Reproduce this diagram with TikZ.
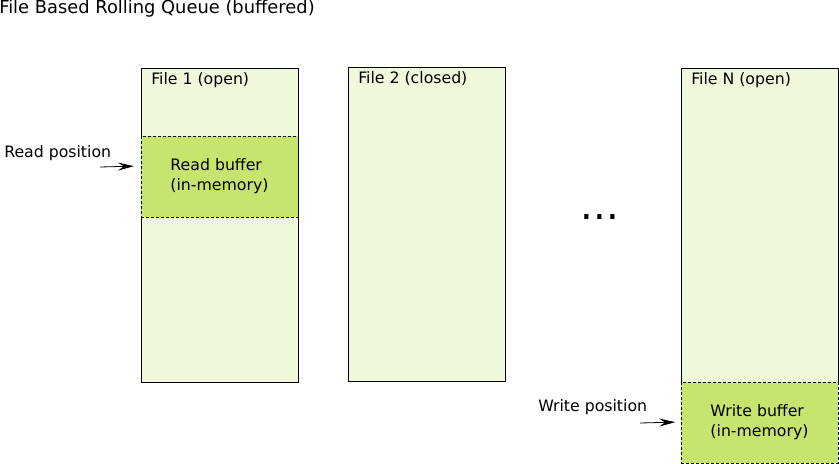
\documentclass[tikz,border=0pt]{standalone}
\usepackage{fontspec}
\setmainfont{DejaVu Sans}
\usetikzlibrary{arrows.meta}
\definecolor{filegreen}{RGB}{240,248,220}
\definecolor{bufgreen}{RGB}{197,229,110}
\begin{document}
\begin{tikzpicture}[x=0.75pt, y=-0.75pt,
    every node/.style={font=\fontsize{11.8}{15}\selectfont, inner sep=0pt},
    filebox/.style={draw=black, line width=0.7pt, fill=filegreen, minimum width=117.75pt, minimum height=235.5pt},
    bufbox/.style={draw=black, line width=0.7pt, fill=bufgreen, dash pattern=on 2.25pt off 1.5pt, minimum width=117.75pt, minimum height=60.75pt, align=left},
    posarrow/.style={-{Stealth[length=12pt, width=6pt, inset=4.5pt]}, line width=0.6pt}]
    \useasboundingbox (0,0) rectangle (839,464);
    \node[anchor=west, font=\fontsize{13.4}{16}\selectfont] (title) at (-1,9) {File Based Rolling Queue (buffered)};
    % files
    \node[filebox] (f1) at (219.5,225) {};
    \node[filebox] (f2) at (426.5,224) {};
    \node[filebox] (fn) at (759.5,225) {};
    \node[anchor=west] (f1lab) at (151,80) {File 1 (open)};
    \node[anchor=west] (f2lab) at (358,79) {File 2 (closed)};
    \node[anchor=west] (fnlab) at (691,80) {File N (open)};
    \node[font=\fontsize{30}{36}\selectfont] (dots) at (600,217) {...};
    % buffers
    \node[bufbox] (rbuf) at (219.5,176.5) {Read buffer\\(in-memory)};
    \node[bufbox] (wbuf) at (759.5,422.5) {Write buffer\\(in-memory)};
    % positions
    \node[anchor=west] (rpos) at (4,153) {Read position};
    \node[anchor=west] (wpos) at (538,407) {Write position};
    \coordinate (rstart) at (100,167);
    \coordinate (wstart) at (640,423);
    \draw[posarrow, shorten >=5pt] (rstart) -- (rbuf.west |- 0,166);
    \draw[posarrow, shorten >=4pt] (wstart) -- (wbuf.west |- 0,422);
\end{tikzpicture}
\end{document}
